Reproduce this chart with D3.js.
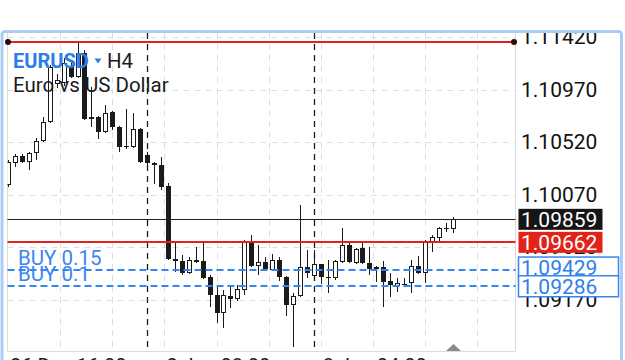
<!DOCTYPE html>
<html>
<head>
<meta charset="utf-8">
<script src="https://cdn.jsdelivr.net/npm/d3@7"></script>
<style>
  html, body { margin: 0; padding: 0; background: #fff; }
  svg { display: block; font-family: Roboto, "Noto Sans", sans-serif; }
</style>
</head>
<body>
<svg id="chart" width="625" height="360"></svg>
<script>
// EURUSD H4 candles, oldest first
var opens = [
  1.10153, 1.10341, 1.10401, 1.10350, 1.10427, 1.10529, 1.10692, 1.11017, 1.11026, 1.11171,
  1.11077, 1.11283, 1.10735, 1.10735, 1.10606, 1.10778, 1.10649, 1.10486, 1.10478, 1.10632,
  1.10409, 1.10341, 1.10324, 1.10144, 1.09519, 1.09502, 1.09399, 1.09511, 1.09502, 1.09365,
  1.09211, 1.09057, 1.09202, 1.09177, 1.09254, 1.09656, 1.09459, 1.09494, 1.09425, 1.09511,
  1.09365, 1.09125, 1.09202, 1.09451, 1.09374, 1.09476, 1.09365, 1.09357, 1.09494, 1.09639,
  1.09485, 1.09613, 1.09485, 1.09434, 1.09451, 1.09331, 1.09288, 1.09305, 1.09314, 1.09459,
  1.09399, 1.09665, 1.09699, 1.09785, 1.09776
];
var highs = [
  1.10367, 1.10418, 1.10418, 1.10435, 1.10555, 1.10735, 1.11180, 1.11103, 1.11240, 1.11206,
  1.11368, 1.11308, 1.10992, 1.10740, 1.10837, 1.10786, 1.10658, 1.10803, 1.10769, 1.10640,
  1.10435, 1.10350, 1.10392, 1.10170, 1.09665, 1.09553, 1.09536, 1.09622, 1.09665, 1.09382,
  1.09297, 1.09254, 1.09297, 1.09297, 1.09682, 1.09725, 1.09639, 1.09536, 1.09562, 1.09536,
  1.09374, 1.09228, 1.09981, 1.09596, 1.09596, 1.09480, 1.09511, 1.09511, 1.09785, 1.09656,
  1.09613, 1.09656, 1.09622, 1.09459, 1.09502, 1.09399, 1.09357, 1.09357, 1.09511, 1.09545,
  1.09682, 1.09725, 1.09793, 1.09827, 1.09879
];
var lows = [
  1.10136, 1.10307, 1.10341, 1.10281, 1.10367, 1.10521, 1.10683, 1.10983, 1.11000, 1.11069,
  1.11069, 1.10710, 1.10649, 1.10546, 1.10597, 1.10623, 1.10435, 1.10461, 1.10469, 1.10341,
  1.10324, 1.10161, 1.10110, 1.09511, 1.09408, 1.09382, 1.09391, 1.09485, 1.09348, 1.09108,
  1.08971, 1.08929, 1.09100, 1.09160, 1.09211, 1.09451, 1.09382, 1.09416, 1.09416, 1.09331,
  1.09031, 1.08766, 1.09194, 1.09357, 1.09348, 1.09305, 1.09228, 1.09339, 1.09485, 1.09485,
  1.09476, 1.09476, 1.09382, 1.09322, 1.09108, 1.09194, 1.09237, 1.09280, 1.09228, 1.09391,
  1.09314, 1.09579, 1.09665, 1.09750, 1.09742
];
var closes = [
  1.10350, 1.10401, 1.10350, 1.10427, 1.10529, 1.10692, 1.11163, 1.11051, 1.11197, 1.11077,
  1.11283, 1.10718, 1.10718, 1.10606, 1.10769, 1.10649, 1.10478, 1.10478, 1.10632, 1.10350,
  1.10341, 1.10324, 1.10136, 1.09519, 1.09502, 1.09399, 1.09511, 1.09494, 1.09357, 1.09211,
  1.09057, 1.09211, 1.09177, 1.09262, 1.09665, 1.09459, 1.09494, 1.09434, 1.09511, 1.09365,
  1.09125, 1.09202, 1.09451, 1.09399, 1.09476, 1.09365, 1.09357, 1.09502, 1.09639, 1.09494,
  1.09605, 1.09485, 1.09434, 1.09451, 1.09322, 1.09297, 1.09314, 1.09306, 1.09459, 1.09399,
  1.09665, 1.09708, 1.09785, 1.09781, 1.09859
];

var priceTicks = [1.11420, 1.10970, 1.10520, 1.10070, 1.09620, 1.09170];
var gridBars = d3.range(7.5, 68, 7.5);
var separatorBars = [20, 44];
var timeLabelBars = [0, 22.5, 45];
var timeLabelTexts = ['26 Dec 16:00', '2 Jan 08:00', '8 Jan 04:00'];

var highLinePrice = 1.11375;
var bidPrice = 1.09859;
var alertPrice = 1.09662;
var orderLabels = ['BUY 0.15', 'BUY 0.1'];
var orderPrices = [1.09429, 1.09286];

var symbolName = 'EURUSD';
var timeframe = 'H4';
var symbolDesc = 'Euro vs US Dollar';

// SETUP
var svg = d3.select('#chart');
var plot = { left: 7.5, right: 515.5, top: 33, bottom: 351.5 };

var x = d3.scaleLinear().domain([0, 64]).range([8, 452.8]);
var y = d3.scaleLinear().domain([1.09170, 1.11420]).range([299.8, 37]);

function px(v) { return Math.round(v) + 0.5; }

var blue = '#3585f2';
var red = '#e2231a';
var ink = '#1b1b1b';

// window frame
svg.append('rect')
  .attr('x', 2).attr('y', 31.5)
  .attr('width', 619.5).attr('height', 360)
  .attr('rx', 3)
  .attr('fill', '#fff')
  .attr('stroke', '#a9cdf6')
  .attr('stroke-width', 3);

var defs = svg.append('defs');
defs.append('clipPath').attr('id', 'plot-clip')
  .append('rect')
  .attr('x', plot.left).attr('y', plot.top)
  .attr('width', plot.right - plot.left).attr('height', plot.bottom - plot.top);
// used inside the translated axis group, so local coordinates
defs.append('clipPath').attr('id', 'axis-clip')
  .append('rect')
  .attr('x', 0).attr('y', plot.top)
  .attr('width', 104).attr('height', 330);

// grid
var grid = svg.append('g').attr('id', 'grid')
  .attr('stroke', '#dedede').attr('stroke-width', 1).attr('stroke-dasharray', '6,5');
grid.selectAll('line.vgrid')
  .data(gridBars)
  .enter().append('line')
  .attr('class', 'vgrid')
  .attr('x1', function (d) { return px(x(d)); })
  .attr('x2', function (d) { return px(x(d)); })
  .attr('y1', plot.top).attr('y2', plot.bottom);
grid.selectAll('line.hgrid')
  .data(priceTicks)
  .enter().append('line')
  .attr('class', 'hgrid')
  .attr('x1', plot.left).attr('x2', plot.right)
  .attr('y1', function (d) { return px(y(d)); })
  .attr('y2', function (d) { return px(y(d)); });

// plot border (left, right, bottom)
svg.append('path')
  .attr('d', 'M' + plot.left + ',' + plot.top + 'V' + plot.bottom + 'H' + plot.right + 'V' + plot.top)
  .attr('fill', 'none')
  .attr('stroke', '#dcdcdc');

// period separators
svg.append('g').attr('id', 'separators')
  .selectAll('line')
  .data(separatorBars)
  .enter().append('line')
  .attr('x1', function (d) { return px(x(d)); })
  .attr('x2', function (d) { return px(x(d)); })
  .attr('y1', plot.top).attr('y2', plot.bottom)
  .attr('stroke', ink)
  .attr('stroke-width', 1.3)
  .attr('stroke-dasharray', '6,5');

// candles
var candles = svg.append('g').attr('id', 'candles').attr('clip-path', 'url(#plot-clip)');
var candle = candles.selectAll('g.candle')
  .data(d3.range(opens.length))
  .enter().append('g')
  .attr('class', 'candle');
candle.append('line')
  .attr('x1', function (i) { return px(x(i)); })
  .attr('x2', function (i) { return px(x(i)); })
  .attr('y1', function (i) { return Math.round(y(highs[i])); })
  .attr('y2', function (i) { return Math.round(y(lows[i])); })
  .attr('stroke', ink);
candle.append('rect')
  .attr('x', function (i) { return px(x(i)) - 2; })
  .attr('width', 4)
  .attr('y', function (i) { return Math.round(y(Math.max(opens[i], closes[i]))) + 0.5; })
  .attr('height', function (i) {
    var h = Math.round(y(Math.min(opens[i], closes[i]))) - Math.round(y(Math.max(opens[i], closes[i])));
    return Math.max(h - 1, 0.01);
  })
  .attr('fill', function (i) { return closes[i] >= opens[i] ? '#fff' : ink; })
  .attr('stroke', ink);

// horizontal price lines
var lines = svg.append('g').attr('id', 'price-lines');
lines.append('line')
  .attr('x1', 8).attr('x2', 514)
  .attr('y1', Math.round(y(highLinePrice))).attr('y2', Math.round(y(highLinePrice)))
  .attr('stroke', red).attr('stroke-width', 2);
lines.selectAll('circle')
  .data([8, 514])
  .enter().append('circle')
  .attr('cx', function (d) { return d; })
  .attr('cy', Math.round(y(highLinePrice)))
  .attr('r', 3)
  .attr('fill', '#2a0a08');
lines.append('line')
  .attr('x1', plot.left).attr('x2', plot.right)
  .attr('y1', px(y(bidPrice))).attr('y2', px(y(bidPrice)))
  .attr('stroke', '#222').attr('stroke-width', 1);
lines.append('line')
  .attr('x1', plot.left).attr('x2', plot.right)
  .attr('y1', Math.round(y(alertPrice))).attr('y2', Math.round(y(alertPrice)))
  .attr('stroke', red).attr('stroke-width', 2);
lines.selectAll('line.order')
  .data(orderPrices)
  .enter().append('line')
  .attr('class', 'order')
  .attr('x1', plot.left).attr('x2', plot.right)
  .attr('y1', function (d) { return Math.round(y(d)); })
  .attr('y2', function (d) { return Math.round(y(d)); })
  .attr('stroke', blue).attr('stroke-width', 2)
  .attr('stroke-dasharray', '7,4');
lines.selectAll('text.order')
  .data(orderLabels)
  .enter().append('text')
  .attr('class', 'order')
  .attr('x', 18)
  .attr('y', function (d, i) { return Math.round(y(orderPrices[i])) - 5; })
  .attr('fill', '#3a86ee')
  .style('font-size', '20.5px')
  .text(function (d) { return d; });

// price axis
var axis = svg.append('g')
  .attr('transform', 'translate(' + plot.right + ',0)')
  .attr('clip-path', 'url(#axis-clip)')
  .call(d3.axisRight(y).tickValues(priceTicks).tickFormat(d3.format('.5f')).tickSize(0).tickPadding(5.5));
axis.select('.domain').remove();
axis.selectAll('text')
  .attr('fill', '#111')
  .style('font-size', '21px')
  .style('font-family', 'Roboto, sans-serif');

// price tags
var tags = [
  { price: bidPrice, fill: '#151515', stroke: 'none', color: '#fff', w: 84, dy: 0 },
  { price: alertPrice, fill: red, stroke: 'none', color: '#fff', w: 84, dy: 0 },
  { price: orderPrices[0], fill: '#fff', stroke: blue, color: '#2f7fe8', w: 100, dy: -2 },
  { price: orderPrices[1], fill: '#fff', stroke: blue, color: '#2f7fe8', w: 100, dy: 0 }
];
var tag = svg.append('g').attr('id', 'tags')
  .selectAll('g')
  .data(tags)
  .enter().append('g')
  .attr('transform', function (d) { return 'translate(518,' + (y(d.price) + d.dy) + ')'; });
tag.append('rect')
  .attr('x', 0.5)
  .attr('y', -10.5)
  .attr('width', function (d) { return d.w; })
  .attr('height', 21)
  .attr('fill', function (d) { return d.fill; })
  .attr('stroke', function (d) { return d.stroke; })
  .attr('stroke-width', 1.5);
tag.append('text')
  .attr('x', 3)
  .attr('dy', '0.35em')
  .attr('fill', function (d) { return d.color; })
  .style('font-size', '21px')
  .text(function (d) { return d3.format('.5f')(d.price); });

// time labels (mostly below the visible area)
svg.append('g').attr('id', 'time-labels')
  .selectAll('text')
  .data(timeLabelBars)
  .enter().append('text')
  .attr('x', function (d) { return x(d) + 2; })
  .attr('y', 373)
  .attr('fill', ink)
  .style('font-size', '20px')
  .text(function (d, i) { return timeLabelTexts[i]; });

// chart shift marker
svg.append('path')
  .attr('d', 'M446,351L453.5,344L461,351Z')
  .attr('fill', '#8a8a8a');

// symbol header
var header = svg.append('g').attr('id', 'header');
header.append('text')
  .attr('x', 13).attr('y', 68)
  .attr('fill', '#2b7de9')
  .style('font-size', '20px')
  .style('font-weight', 'bold')
  .text(symbolName);
header.append('path')
  .attr('d', 'M94.5,58.5L101.5,58.5L98,63.5Z')
  .attr('fill', '#2b7de9');
header.append('text')
  .attr('x', 107).attr('y', 68)
  .attr('fill', ink)
  .style('font-size', '20.5px')
  .text(timeframe);
header.append('text')
  .attr('x', 13).attr('y', 92)
  .attr('fill', ink)
  .style('font-size', '20.5px')
  .text(symbolDesc);
</script>
</body>
</html>
